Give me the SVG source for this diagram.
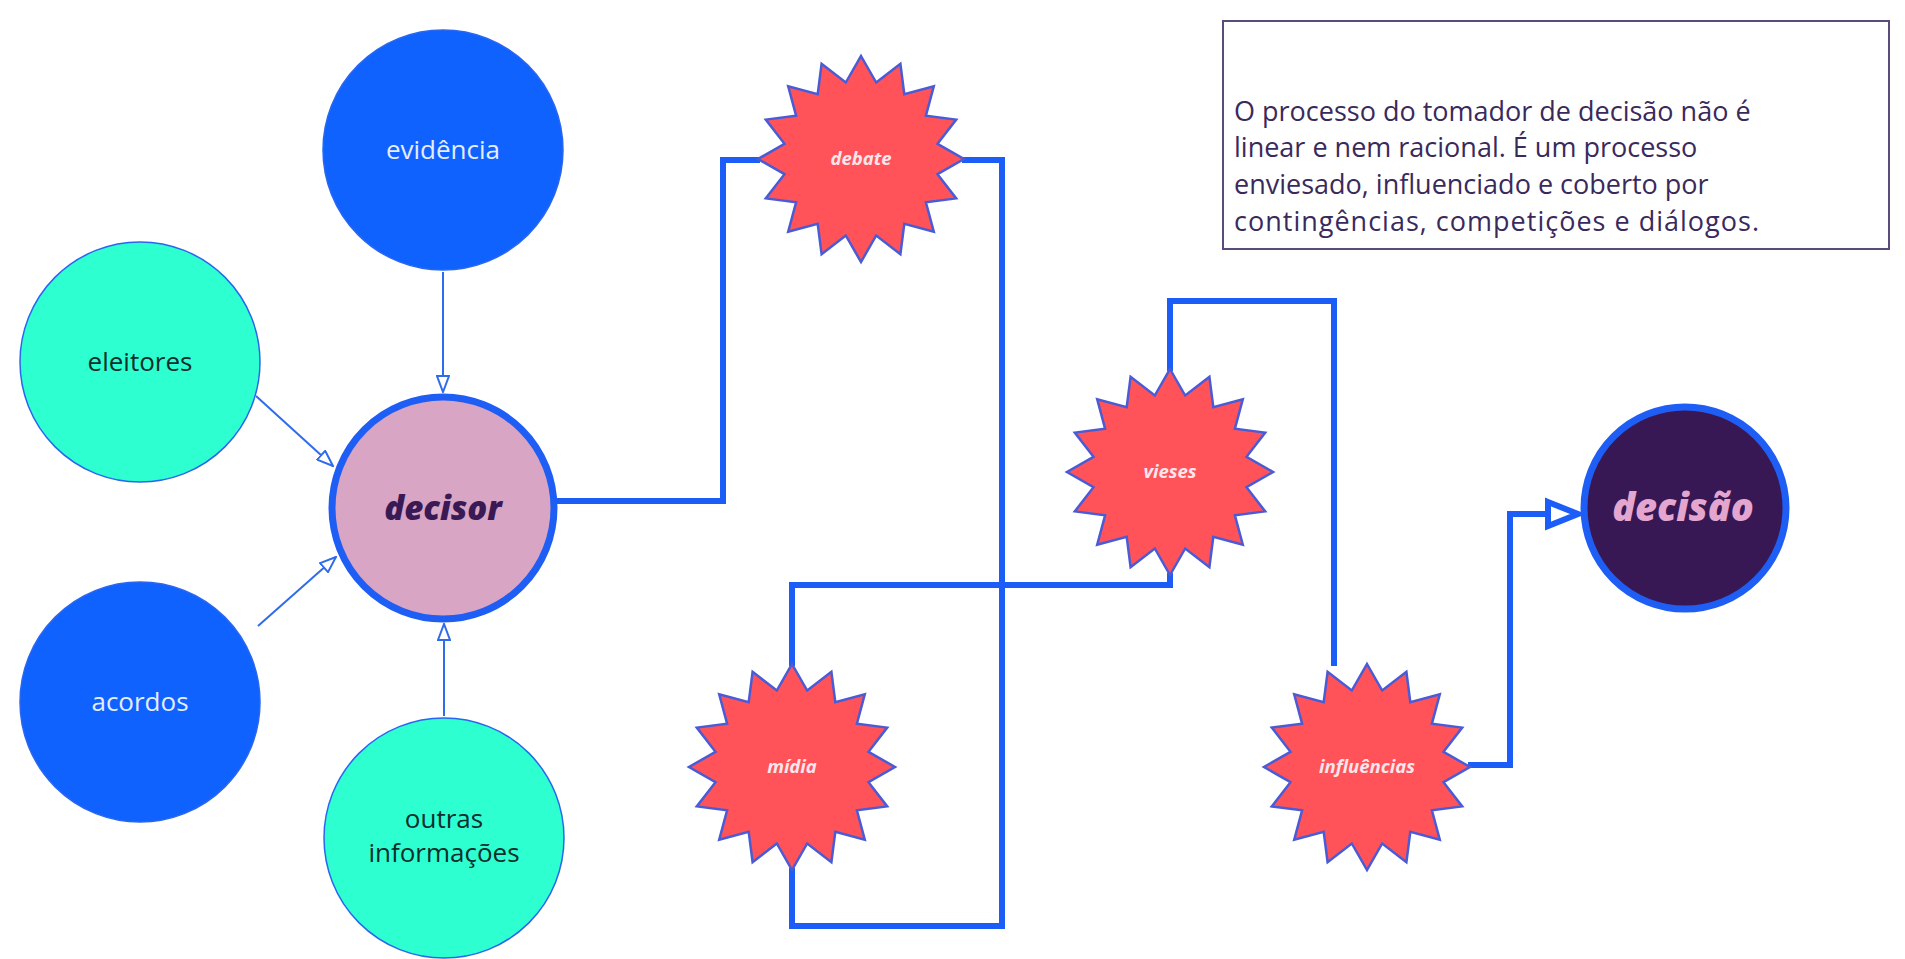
<svg xmlns="http://www.w3.org/2000/svg" width="1905" height="959" viewBox="0 0 1905 959">
<style>
text{font-family:"Open Sans","Noto Sans","Liberation Sans",sans-serif;text-anchor:middle}
.blue{fill:#0F62FE;stroke:#2A66F0;stroke-width:1.5}
.teal{fill:#2DFFD1;stroke:#2A66F0;stroke-width:1.5}
.lbl{font-size:26px}
.lw{fill:#E4ECFF}
.ld{fill:#0F2E2C}
.star{fill:#FF5359;stroke:#4A5BD6;stroke-width:2.5;stroke-linejoin:miter}
.sl{font-size:18.5px;font-weight:700;font-style:italic;fill:#FCE6EC}
.conn{fill:none;stroke:#1B5DF6;stroke-width:6;stroke-linejoin:miter;stroke-linecap:butt}
.thin{fill:none;stroke:#2F6BEA;stroke-width:2}
.big{font-weight:800;font-style:italic}
.note{font-size:27px;fill:#3A2A5C;text-anchor:start}
</style>
<defs>
<path id="starshape" d="M0,-103 L15.2,-76.5 L39.4,-95.2 L43.3,-64.9 L72.8,-72.8 L64.9,-43.3 L95.2,-39.4 L76.5,-15.2 L103,0 L76.5,15.2 L95.2,39.4 L64.9,43.3 L72.8,72.8 L43.3,64.9 L39.4,95.2 L15.2,76.5 L0,103 L-15.2,76.5 L-39.4,95.2 L-43.3,64.9 L-72.8,72.8 L-64.9,43.3 L-95.2,39.4 L-76.5,15.2 L-103,0 L-76.5,-15.2 L-95.2,-39.4 L-64.9,-43.3 L-72.8,-72.8 L-43.3,-64.9 L-39.4,-95.2 L-15.2,-76.5 Z"/>
<marker id="open" viewBox="0 0 18 14" markerWidth="18" markerHeight="14" refX="17" refY="7" orient="auto" markerUnits="userSpaceOnUse">
<path d="M1,1 L17,7 L1,13 Z" fill="#fff" stroke="#2F6BEA" stroke-width="2"/>
</marker>
</defs>
<rect width="1905" height="959" fill="#fff"/>
<g id="connectors">
<path class="conn" d="M556,501 H723 V160 H760"/>
<path class="conn" d="M962,160 H1002 V926 H792 V868"/>
<path class="conn" d="M792,666 V585 H1170 V573"/>
<path class="conn" d="M1170,371 V301 H1334 V666"/>
<path class="conn" d="M1468,765 H1510 V514 H1548"/>
<polygon points="1548,502 1578,514 1548,526" fill="#fff" stroke="#1B5DF6" stroke-width="6" stroke-linejoin="miter"/>
<line class="thin" x1="443" y1="272" x2="443" y2="392" marker-end="url(#open)"/>
<line class="thin" x1="256" y1="396" x2="333" y2="466" marker-end="url(#open)"/>
<line class="thin" x1="258" y1="626" x2="336" y2="557" marker-end="url(#open)"/>
<line class="thin" x1="444" y1="716" x2="444" y2="624" marker-end="url(#open)"/>
</g>
<g id="evidencia"><circle class="blue" cx="443" cy="150" r="120"/><text class="lbl lw" x="443" y="159">evidência</text></g>
<g id="eleitores"><circle class="teal" cx="140" cy="362" r="120"/><text class="lbl ld" x="140" y="371">eleitores</text></g>
<g id="acordos"><circle class="blue" cx="140" cy="702" r="120"/><text class="lbl lw" x="140" y="711">acordos</text></g>
<g id="outras"><circle class="teal" cx="444" cy="838" r="120"/><text class="lbl ld" x="444" y="828" font-size="25">outras</text><text class="lbl ld" x="444" y="862" font-size="25">informações</text></g>
<g id="decisor"><circle cx="443" cy="508" r="111" fill="#D9A5C5" stroke="#1F5EF5" stroke-width="7"/><text class="big" font-size="33" x="443" y="520" fill="#3A1A55">decisor</text></g>
<g id="debate"><use href="#starshape" class="star" x="861" y="159"/><text class="sl" x="861" y="165">debate</text></g>
<g id="vieses"><use href="#starshape" class="star" x="1170" y="472"/><text class="sl" x="1170" y="478">vieses</text></g>
<g id="midia"><use href="#starshape" class="star" x="792" y="767"/><text class="sl" x="792" y="773">mídia</text></g>
<g id="influencias"><use href="#starshape" class="star" x="1367" y="767"/><text class="sl" x="1367" y="773">influências</text></g>
<g id="decisao"><circle cx="1685" cy="508" r="101" fill="#381854" stroke="#1F5EF5" stroke-width="7"/><text class="big" font-size="38" x="1683" y="521" fill="#E4A6CF">decisão</text></g>
<g id="nota">
<rect x="1223" y="21" width="666" height="228" fill="#fff" stroke="#5B4B7B" stroke-width="2"/>
<text class="note" x="1234" y="121">O processo do tomador de decisão não é</text>
<text class="note" x="1234" y="157">linear e nem racional. É um processo</text>
<text class="note" x="1234" y="194">enviesado, influenciado e coberto por</text>
<text class="note" x="1234" y="231" textLength="525" lengthAdjust="spacing">contingências, competições e diálogos.</text>
</g>
</svg>
